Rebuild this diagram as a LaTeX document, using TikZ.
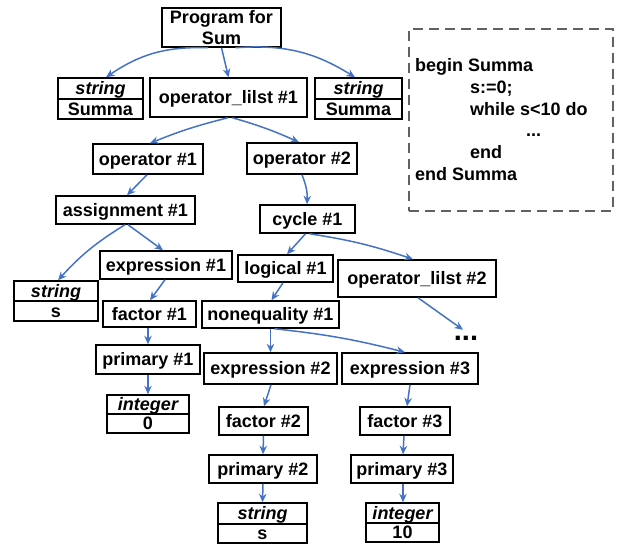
\documentclass[tikz,border=0pt]{standalone}
\usepackage{fontspec}
\setmainfont{Liberation Sans}
\usetikzlibrary{arrows.meta}
\definecolor{arr}{HTML}{4472C4}
\definecolor{dashgray}{HTML}{606060}
\tikzset{
  basebox/.style={draw=black, line width=1.5pt, inner sep=0pt, anchor=center,
    font=\fontsize{18}{21}\selectfont\bfseries},
  box/.style={basebox, text height=12.9pt, text depth=0pt},
  ibox/.style={box, font=\fontsize{18}{21}\selectfont\bfseries\itshape},
  conn/.style={draw=arr, line width=1.5pt, -{Stealth[length=8.5pt,width=7.5pt]}},
  codeline/.style={anchor=base west, inner sep=0pt, font=\fontsize{18}{21}\selectfont\bfseries},
  codebox/.style={draw=dashgray, line width=1.2pt, dash pattern=on 10pt off 6pt, inner sep=0pt},
}
\begin{document}
\begin{tikzpicture}[x=1pt,y=-1pt]
\useasboundingbox (0,0) rectangle (624,544);
% code box
\node[codebox, minimum width=204pt, minimum height=182pt] (code) at (511,120) {};
\node[codeline] (c1) at (415,71) {begin Summa};
\node[codeline] (c2) at (470,93) {s:=0;};
\node[codeline] (c3) at (470,115) {while s<10 do};
\node[codeline] (c4) at (526,136) {...};
\node[codeline] (c5) at (470,158) {end};
\node[codeline] (c6) at (415,180) {end Summa};
% tree nodes
\node[basebox, align=center, minimum width=119pt, minimum height=39pt] (prog) at (221.5,27.5) {Program for\\Sum};
\node[ibox, minimum width=85pt, minimum height=21pt] (strLt) at (100.5,88.5) {string};
\node[box, minimum width=85pt, minimum height=20pt] (strLb) at (100.5,109) {Summa};
\node[box, minimum width=157pt, minimum height=39pt] (ol1) at (228.5,97.5) {operator\_lilst \#1};
\node[ibox, minimum width=87pt, minimum height=21pt] (strRt) at (358.5,88.5) {string};
\node[box, minimum width=87pt, minimum height=20pt] (strRb) at (358.5,109) {Summa};
\node[box, minimum width=110pt, minimum height=30pt] (op1) at (148,159) {operator \#1};
\node[box, minimum width=110pt, minimum height=31pt] (op2) at (302,158.5) {operator \#2};
\node[box, minimum width=139pt, minimum height=28pt] (asg) at (125.5,210) {assignment \#1};
\node[box, minimum width=95pt, minimum height=28pt] (cyc) at (307.5,219) {cycle \#1};
\node[box, minimum width=132pt, minimum height=28pt] (ex1) at (166,265) {expression \#1};
\node[ibox, minimum width=84pt, minimum height=20pt] (strSt) at (56,291) {string};
\node[box, minimum width=84pt, minimum height=20pt] (strSb) at (56,311) {s};
\node[box, minimum width=95pt, minimum height=27pt] (log) at (285.5,268.5) {logical \#1};
\node[box, minimum width=158pt, minimum height=37pt] (ol2) at (417,278.5) {operator\_lilst \#2};
\node[box, minimum width=93pt, minimum height=26pt] (fa1) at (149.5,314) {factor \#1};
\node[box, minimum width=137pt, minimum height=27pt] (neq) at (270.5,314.5) {nonequality \#1};
\node[inner sep=0pt, font=\fontsize{29}{29}\selectfont\bfseries, text height=4pt, text depth=0pt] (dots) at (466,338) {...};
\node[box, minimum width=104pt, minimum height=29pt] (pr1) at (148,359.5) {primary \#1};
\node[ibox, minimum width=82pt, minimum height=19pt] (int0t) at (148,404.5) {integer};
\node[box, minimum width=82pt, minimum height=19pt] (int0b) at (148,423.5) {0};
\node[box, minimum width=133pt, minimum height=31pt] (ex2) at (270.5,368.5) {expression \#2};
\node[box, minimum width=136pt, minimum height=31pt] (ex3) at (410,368.5) {expression \#3};
\node[box, minimum width=89pt, minimum height=28pt] (fa2) at (263.5,421) {factor \#2};
\node[box, minimum width=90pt, minimum height=28pt] (fa3) at (405,421) {factor \#3};
\node[box, minimum width=108pt, minimum height=28pt] (pr2) at (263,469) {primary \#2};
\node[box, minimum width=102pt, minimum height=28pt] (pr3) at (402,469) {primary \#3};
\node[ibox, minimum width=89pt, minimum height=21pt] (strBt) at (262.5,513.5) {string};
\node[box, minimum width=89pt, minimum height=19pt] (strBb) at (262.5,533.5) {s};
\node[ibox, minimum width=73pt, minimum height=20pt] (intTt) at (402.5,513) {integer};
\node[box, minimum width=73pt, minimum height=19pt] (intTb) at (402.5,532.5) {10};
% connectors
\draw[conn] ([xshift=-13.5pt]prog.south) to[bend right=18] ([xshift=5.5pt]strLt.north);
\draw[conn] (prog.south) -- (ol1.north);
\draw[conn] ([xshift=14pt]prog.south) to[bend left=18] ([xshift=-3.5pt]strRt.north);
\draw[conn] ([xshift=-0.5pt]ol1.south) to[bend right=4] ([xshift=2pt]op1.north);
\draw[conn] ([xshift=4pt]ol1.south) to[bend left=4] ([xshift=-3pt]op2.north);
\draw[conn] ([xshift=-1pt]op1.south) -- ([xshift=1.5pt]asg.north);
\draw[conn] (op2.south) to[bend left=12] ([xshift=-0.5pt]cyc.north);
\draw[conn] ([xshift=-0.5pt]asg.south) to[bend right=8] ([xshift=2pt]strSt.north);
\draw[conn] ([xshift=2.5pt]asg.south) -- ([xshift=-3pt]ex1.north);
\draw[conn] ([xshift=-1pt]ex1.south) -- ([xshift=0.5pt]fa1.north);
\draw[conn] ([xshift=-1.5pt]fa1.south) -- (pr1.north);
\draw[conn] (pr1.south) -- (int0t.north);
\draw[conn] ([xshift=-2pt]cyc.south) -- ([xshift=1.5pt]log.north);
\draw[conn] ([xshift=2pt]cyc.south) to[bend left=5] ([xshift=-4pt]ol2.north);
\draw[conn] ([xshift=-2.5pt]log.south) -- ([xshift=1pt]neq.north);
\draw[conn] (neq.south) -- (ex2.north);
\draw[conn] ([xshift=4pt]neq.south) to[bend left=4] ([xshift=-5pt]ex3.north);
\draw[conn] ([xshift=1pt]ol2.south) -- ([xshift=-3pt,yshift=6pt]dots.north);
\draw[conn] ([xshift=0.5pt]ex2.south) -- ([xshift=0.5pt]fa2.north);
\draw[conn] (fa2.south) -- (pr2.north);
\draw[conn] (pr2.south) -- (strBt.north);
\draw[conn] (ex3.south) -- ([xshift=2pt]fa3.north);
\draw[conn] ([xshift=-1pt]fa3.south) -- ([xshift=1pt]pr3.north);
\draw[conn] ([xshift=1pt]pr3.south) -- ([xshift=0.5pt]intTt.north);
\end{tikzpicture}
\end{document}
